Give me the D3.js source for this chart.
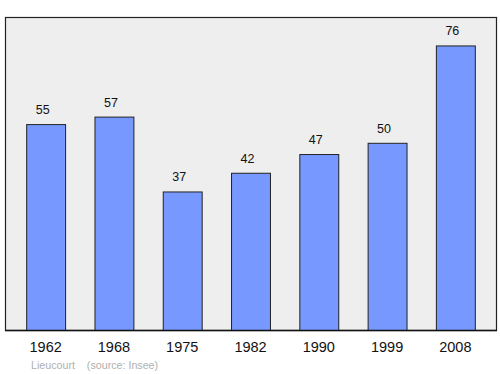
<!DOCTYPE html>
<html><head><meta charset="utf-8">
<script src="https://cdn.jsdelivr.net/npm/d3@7"></script>
<style>body{margin:0;background:#fff}svg{display:block}</style>
</head><body>
<script>
const years = ["1962","1968","1975","1982","1990","1999","2008"];
const population = [55,57,37,42,47,50,76];
const sourceLabel = "Lieucourt    (source: Insee)";

const W = 500, H = 374;
const plot = {left:5, top:17, right:496, bottom:330};
const svg = d3.select("body").append("svg").attr("width",W).attr("height",H);

svg.append("rect").attr("x",plot.left+0.5).attr("y",plot.top+0.5)
  .attr("width",plot.right-plot.left).attr("height",plot.bottom-plot.top)
  .attr("fill","#eeeeee").attr("stroke","#222").attr("stroke-width",1.2);

const x = d3.scaleBand().domain(years).range([11.5,489.5]).paddingInner(0.43).paddingOuter(0.215);
const y = d3.scaleLinear().domain([0, d3.max(population)*1.1]).range([plot.bottom, plot.top]);

const g = svg.append("g");
g.selectAll("rect.bar").data(years).join("rect").attr("class","bar")
  .attr("x",d=>x(d)+0.5).attr("y",(d,i)=>y(population[i])+0.5)
  .attr("width",x.bandwidth()).attr("height",(d,i)=>y(0)-y(population[i]))
  .attr("fill","#7799ff").attr("stroke","#222").attr("stroke-width",1);

g.selectAll("text.val").data(years).join("text").attr("class","val")
  .attr("x",d=>x(d)+x.bandwidth()/2-3).attr("y",(d,i)=>y(population[i])-10)
  .attr("text-anchor","middle").attr("font-family","Liberation Sans, Arial, sans-serif")
  .attr("font-size",12.5).attr("fill","#111").text((d,i)=>population[i]);

const xAxis = d3.axisBottom(x).tickSize(0).tickPadding(0);
const ax = svg.append("g").attr("transform",`translate(0,${plot.bottom})`).call(xAxis);
ax.select(".domain").remove();
ax.selectAll("text").attr("y",22).attr("dy",0).attr("font-family","Liberation Sans, Arial, sans-serif")
  .attr("font-size",14.5).attr("fill","#111");

svg.append("line").attr("x1",plot.left).attr("x2",plot.right+1).attr("y1",plot.bottom+0.5).attr("y2",plot.bottom+0.5)
  .attr("stroke","#111").attr("stroke-width",1.5);

svg.append("text").attr("x",31).attr("y",369).attr("font-family","Liberation Sans, Arial, sans-serif")
  .attr("font-size",10.7).attr("fill","#b0b0b0").attr("xml:space","preserve").style("white-space","pre").text(sourceLabel);
</script>
</body></html>
